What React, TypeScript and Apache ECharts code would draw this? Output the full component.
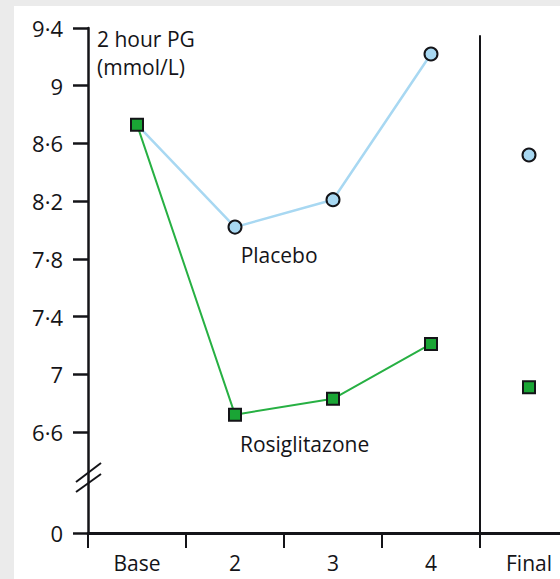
import React, { useEffect, useRef } from "react";
import * as echarts from "echarts";

// Visits along the x axis
const categories = ["Base", "2", "3", "4", "Final"];
// 2-hour plasma glucose (mmol/L), Base through week 4
const placeboWeeks = [8.73, 8.02, 8.21, 9.22];
const rosiglitazoneWeeks = [8.73, 6.72, 6.83, 7.21];
// Final visit values (plotted unconnected)
const placeboFinal = 8.52;
const rosiglitazoneFinal = 6.91;
// Axis values: the broken axis puts "0" just below 6.6
const axisZero = 5.9;
const yTickValues = [5.9, 6.6, 7.0, 7.4, 7.8, 8.2, 8.6, 9.0, 9.4];
// Series name labels (x in category index units, y in mmol/L)
const seriesLabels: [number, number, string][] = [
  [1.45, 7.83, "Placebo"],
  [1.71, 6.52, "Rosiglitazone"],
];

const FONT = "'Open Sans', sans-serif";
const INK = "#141418";
const BLUE = "#a8d8f2";
const GREEN = "#27b043";
const GREEN_FILL = "#1aa535";

export default function App() {
  const ref = useRef<HTMLDivElement>(null);

  useEffect(() => {
    if (!ref.current) return;
    const chart = echarts.init(ref.current, undefined, { renderer: "svg" });

    const fmtY = (v: number) =>
      Math.abs(v - axisZero) < 1e-6
        ? "0"
        : String(Math.round(v * 10) / 10).replace(".", "·");

    chart.setOption({
      animation: false,
      backgroundColor: "#ffffff",
      grid: {
        left: 74,
        top: 22,
        bottom: 46,
        width: 490,
        containLabel: false,
        outerBoundsMode: "none",
      },
      xAxis: [
        {
          type: "category",
          data: categories,
          boundaryGap: true,
          axisLine: { onZero: false, lineStyle: { color: INK, width: 3 } },
          axisTick: {
            show: true,
            length: 15,
            interval: 0,
            lineStyle: { color: INK, width: 2 },
          },
          axisLabel: {
            interval: 0,
            margin: 19,
            color: INK,
            fontSize: 21,
            fontFamily: FONT,
          },
          splitLine: { show: false },
        },
        {
          type: "value",
          min: -0.5,
          max: 4.5,
          show: false,
          axisLine: { onZero: false },
        },
      ],
      yAxis: {
        type: "value",
        min: axisZero,
        max: 9.4,
        axisLine: { show: true, onZero: false, lineStyle: { color: INK, width: 2.5 } },
        axisTick: {
          show: true,
          length: 15,
          customValues: yTickValues,
          lineStyle: { color: INK, width: 2.5 },
        },
        axisLabel: {
          customValues: yTickValues,
          formatter: fmtY,
          margin: 25,
          color: INK,
          fontSize: 22,
          fontFamily: FONT,
        },
        splitLine: { show: false },
      },
      graphic: [
        {
          type: "text",
          left: 83,
          top: 19,
          style: {
            text: "2 hour PG\n(mmol/L)",
            fill: INK,
            font: `21px ${FONT}`,
            lineHeight: 28,
          },
        },
        // axis break marks
        {
          type: "line",
          shape: { x1: 62, y1: 476, x2: 87, y2: 457 },
          style: { stroke: INK, lineWidth: 2 },
        },
        {
          type: "line",
          shape: { x1: 62, y1: 486, x2: 87, y2: 468 },
          style: { stroke: INK, lineWidth: 2 },
        },
      ],
      series: [
        {
          // separator between week 4 and the final visit
          type: "line",
          xAxisIndex: 1,
          data: [
            [3.5, 9.35],
            [3.5, axisZero],
          ],
          symbol: "none",
          lineStyle: { color: INK, width: 2 },
          silent: true,
          z: 1,
        },
        {
          name: "Placebo",
          type: "line",
          data: placeboWeeks.map((v, i) =>
            i === 0 ? { value: v, symbol: "none" } : v
          ),
          symbol: "circle",
          symbolSize: 13,
          lineStyle: { color: BLUE, width: 2.5 },
          itemStyle: { color: BLUE, borderColor: INK, borderWidth: 2 },
          z: 3,
        },
        {
          name: "Placebo final",
          type: "scatter",
          data: [null, null, null, null, placeboFinal],
          symbol: "circle",
          symbolSize: 13,
          itemStyle: { color: BLUE, borderColor: INK, borderWidth: 2, opacity: 1 },
          z: 3,
        },
        {
          name: "Rosiglitazone",
          type: "line",
          data: rosiglitazoneWeeks,
          symbol: "rect",
          symbolSize: 12,
          lineStyle: { color: GREEN, width: 2 },
          itemStyle: { color: GREEN_FILL, borderColor: INK, borderWidth: 2 },
          z: 4,
        },
        {
          name: "Rosiglitazone final",
          type: "scatter",
          data: [null, null, null, null, rosiglitazoneFinal],
          symbol: "rect",
          symbolSize: 12,
          itemStyle: {
            color: GREEN_FILL,
            borderColor: INK,
            borderWidth: 2,
            opacity: 1,
          },
          z: 4,
        },
        {
          name: "labels",
          type: "scatter",
          xAxisIndex: 1,
          data: seriesLabels,
          symbolSize: 1,
          itemStyle: { color: "rgba(0,0,0,0)" },
          silent: true,
          label: {
            show: true,
            position: "inside",
            formatter: (p: any) => p.value[2],
            color: INK,
            opacity: 1,
            textBorderWidth: 0,
            fontSize: 21,
            fontFamily: FONT,
          },
          z: 5,
        },
      ],
    });

    return () => chart.dispose();
  }, []);

  return (
    <div
      style={{
        position: "fixed",
        left: 0,
        top: 0,
        width: 560,
        height: 579,
        background: "#ebebeb",
        overflow: "hidden",
      }}
    >
      <div
        ref={ref}
        style={{
          position: "absolute",
          left: 14,
          top: 6,
          width: 546,
          height: 573,
          background: "#ffffff",
        }}
      />
    </div>
  );
}
